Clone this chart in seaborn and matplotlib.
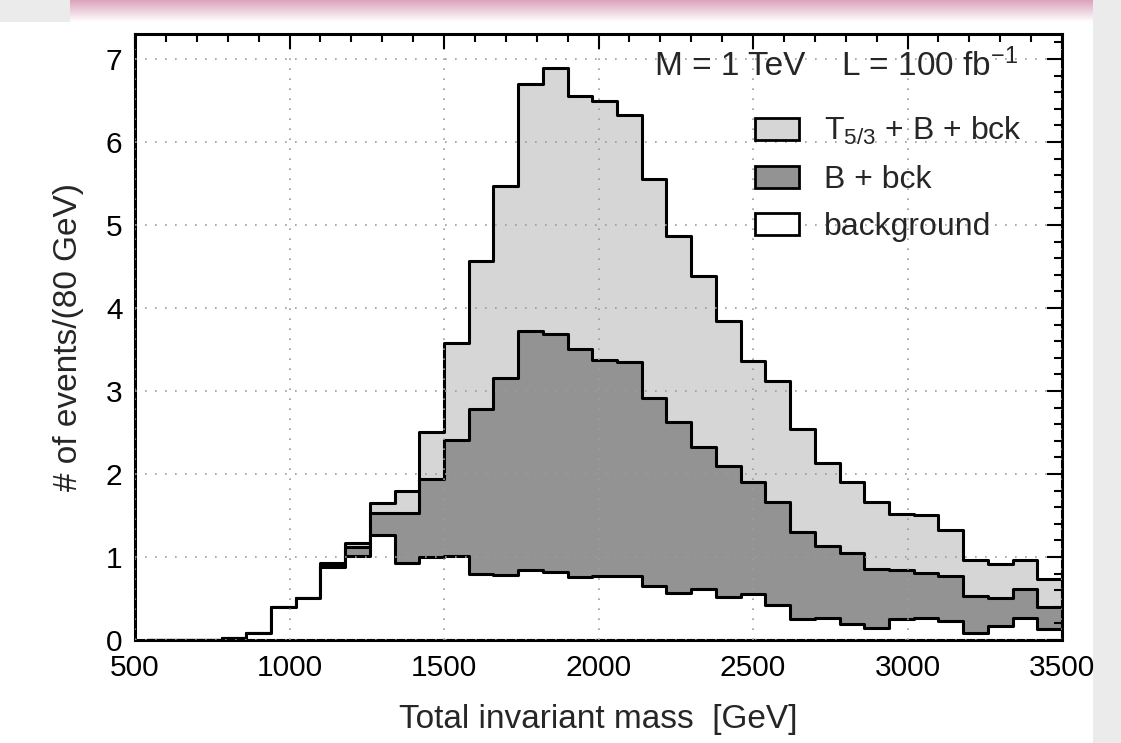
import numpy as np
import pandas as pd
import matplotlib
matplotlib.use("Agg")
import matplotlib.pyplot as plt
import seaborn as sns
from matplotlib.patches import Patch, Rectangle
from matplotlib.ticker import MultipleLocator

# ---------------- data ----------------
bin_edges = list(range(540, 3501, 80))          # 80 GeV bins, 540 ... 3500 GeV

total_sig_bck = [0.00, 0.00, 0.00, 0.02, 0.09, 0.40, 0.51, 0.93, 1.17, 1.65, 1.80, 2.51,
                 3.58, 4.56, 5.47, 6.70, 6.89, 6.55, 6.49, 6.33, 5.55, 4.87, 4.39, 3.84,
                 3.36, 3.12, 2.54, 2.13, 1.90, 1.66, 1.52, 1.50, 1.33, 0.96, 0.91, 0.96, 0.73]

b_plus_bck = [0.00, 0.00, 0.00, 0.02, 0.09, 0.40, 0.51, 0.90, 1.12, 1.53, 1.53, 1.94,
              2.41, 2.78, 3.16, 3.72, 3.69, 3.50, 3.37, 3.35, 2.92, 2.63, 2.32, 2.10,
              1.90, 1.66, 1.30, 1.13, 1.05, 0.86, 0.84, 0.81, 0.77, 0.53, 0.51, 0.61, 0.40]

background = [0.00, 0.00, 0.00, 0.02, 0.09, 0.40, 0.51, 0.88, 1.01, 1.27, 0.93, 1.00,
              1.01, 0.79, 0.78, 0.84, 0.82, 0.76, 0.77, 0.77, 0.65, 0.57, 0.62, 0.52,
              0.55, 0.42, 0.25, 0.26, 0.19, 0.14, 0.25, 0.26, 0.23, 0.09, 0.17, 0.26, 0.13]

series_labels = ["T$_{5/3}$ + B + bck", "B + bck", "background"]
series_colors = ["#d6d6d6", "#939393", "#ffffff"]

x_ticks = [500, 1000, 1500, 2000, 2500, 3000, 3500]
y_ticks = [0, 1, 2, 3, 4, 5, 6, 7]

x_label = "Total invariant mass  [GeV]"
y_label = "# of events/(80 GeV)"
note_mass = "M = 1 TeV"
note_lumi = "L = 100 fb$^{-1}$"

# ---------------- style ----------------
sns.set_style("white")
plt.rcParams["font.family"] = ["Liberation Sans", "DejaVu Sans"]
plt.rcParams["mathtext.default"] = "regular"
plt.rcParams["axes.unicode_minus"] = True

W, H = 1121, 743
fig = plt.figure(figsize=(W / 100, H / 100), dpi=100)
fig.patch.set_facecolor("white")

# slide decoration (gray margin + pink title bar)
fig.add_artist(Rectangle((1093 / W, 0), 1 - 1093 / W, 1, transform=fig.transFigure,
                         facecolor="#ebebeb", edgecolor="none", zorder=-5))
fig.add_artist(Rectangle((0, 1 - 22 / H), 70 / W, 22 / H, transform=fig.transFigure,
                         facecolor="#ebebeb", edgecolor="none", zorder=-5))
bar_ax = fig.add_axes([70 / W, 1 - 22 / H, (1093 - 70) / W, 22 / H], zorder=-4)
grad = np.linspace(0, 1, 50)[:, None]
top_c = np.array([0.86, 0.64, 0.74])
img = top_c[None, None, :] * (1 - grad[:, :, None]) + np.ones(3)[None, None, :] * grad[:, :, None]
img = np.repeat(img, 10, axis=1)
bar_ax.imshow(img, aspect="auto", extent=(0, 1, 0, 1), origin="upper")
bar_ax.set_axis_off()

ax = fig.add_axes([135 / W, 1 - 640 / H, (1062 - 135) / W, (640 - 34) / H])

centers = [(a + b) / 2 for a, b in zip(bin_edges[:-1], bin_edges[1:])]
df = pd.DataFrame({"mass": centers, "total": total_sig_bck,
                   "bbck": b_plus_bck, "bck": background})

for col, color in zip(["total", "bbck", "bck"], series_colors):
    sns.histplot(data=df, x="mass", weights=col, bins=bin_edges, element="step",
                 fill=True, facecolor=color, edgecolor="black", linewidth=2.2,
                 alpha=1, ax=ax)

ax.set_xlim(500, 3500)
ax.set_ylim(0, 7.3)
ax.set_xticks(x_ticks)
ax.set_yticks(y_ticks)
ax.xaxis.set_minor_locator(MultipleLocator(100))
ax.yaxis.set_minor_locator(MultipleLocator(0.2))
ax.tick_params(which="both", direction="in", top=True, right=True, width=1.5,
               colors="black", labelsize=21.5)
ax.tick_params(which="major", length=11)
ax.tick_params(axis="x", which="major", pad=10)
ax.tick_params(axis="y", which="major", pad=9)
ax.tick_params(which="minor", length=5.5)
for s in ax.spines.values():
    s.set_linewidth(2.2)
    s.set_color("black")
ax.set_axisbelow(False)
ax.grid(True, which="major", color="#9c9c9c", linestyle=(0, (1, 5)), linewidth=1.2)

ax.set_xlabel(x_label, fontsize=24, labelpad=16)
ax.set_ylabel(y_label, fontsize=24, labelpad=16)

ax.text(0.561, 0.947, note_mass, transform=ax.transAxes, fontsize=24,
        ha="left", va="center")
ax.text(0.9525, 0.947, note_lumi, transform=ax.transAxes, fontsize=24,
        ha="right", va="center")

handles = [Patch(facecolor=c, edgecolor="black", linewidth=2.0) for c in series_colors]
ax.legend(handles, series_labels, loc="upper left", bbox_to_anchor=(0.669, 0.866),
          frameon=False, fontsize=23, handlelength=1.37, handleheight=0.68,
          handletextpad=0.78, labelspacing=0.55, borderpad=0, borderaxespad=0)

fig.savefig("out.png", dpi=100)
